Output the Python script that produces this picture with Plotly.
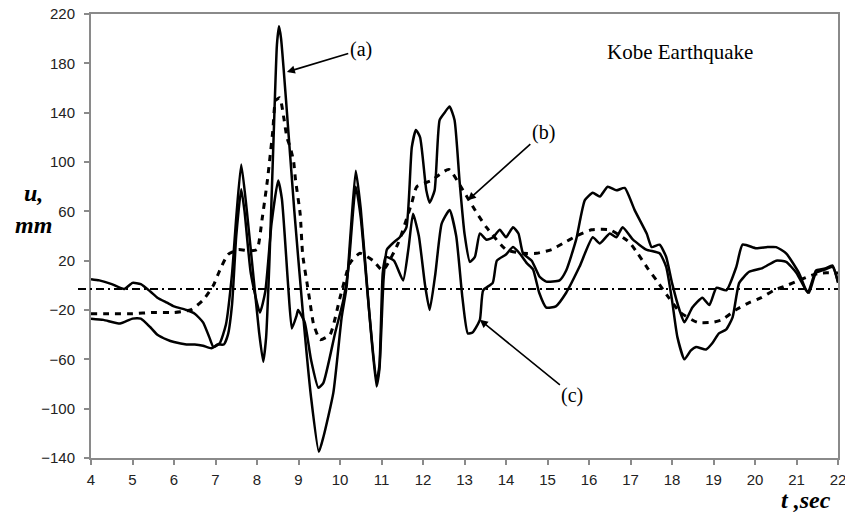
import plotly.graph_objects as go

# ---- data ----
t_a = [4.0, 4.2, 4.5, 4.8, 5.0, 5.2, 5.43, 5.6, 5.83, 6.0, 6.3, 6.5, 6.7, 6.85, 6.95,
       7.1, 7.25, 7.4, 7.5, 7.62, 7.75, 7.9, 8.05, 8.15, 8.22, 8.3, 8.4, 8.48, 8.53, 8.58,
       8.7, 8.9, 9.1, 9.3, 9.49, 9.6, 9.84, 10.04, 10.16, 10.25, 10.38, 10.5, 10.7, 10.88,
       10.95, 11.05, 11.13, 11.3, 11.44, 11.6, 11.73, 11.83, 11.93, 12.08, 12.16, 12.28,
       12.4, 12.52, 12.64, 12.76, 12.88, 13.0, 13.13, 13.25, 13.37, 13.53, 13.69, 13.85,
       14.0, 14.17, 14.3, 14.41, 14.62, 14.81, 14.97, 15.29, 15.45, 15.69, 15.9, 16.09,
       16.26, 16.45, 16.66, 16.86, 17.1, 17.39, 17.51, 17.7, 17.86, 18.0, 18.18, 18.3,
       18.49, 18.73, 18.9, 19.07, 19.31, 19.55, 19.7, 20.03, 20.3, 20.51, 20.75, 21.06,
       21.27, 21.47, 21.6, 21.71, 21.87, 22.0]
u_a = [5, 4, 1, -3, 2, 1, -5, -10, -14, -17, -20, -23, -30, -42, -50,
       -47, -32, 10, 55, 98, 62, 12, -38, -62, -42, 20, 120, 195, 210, 200,
       150, 60, -20, -90, -135, -123, -87, -26, -1, 40, 93, 62, -20, -82,
       -68, 5, 29, 35, 39, 47, 112, 126, 120, 77, 67, 77,
       134, 140, 145, 134, 85, 42, 19, 23, 42, 37, 39, 45,
       39, 47, 42, 26, 20, 7, 3, 4, 12, 37, 69, 75,
       72, 80, 77, 79, 61, 42, 31, 33, 23, 2, -20, -30,
       -18, -10, -16, -2, -4, 15, 33, 30, 31, 31, 26, 10,
       -6, 12, 13, 14, 16, 2]

t_b = [4.0, 4.5, 5.0, 5.5, 6.0, 6.4, 6.7, 6.95, 7.1, 7.3, 7.55, 7.8, 8.0, 8.12, 8.25,
       8.38, 8.45, 8.55, 8.65, 8.72, 8.8, 8.88, 8.93, 9.04, 9.1, 9.2, 9.27, 9.36, 9.52,
       9.76, 10.0, 10.24, 10.48, 10.8, 11.03, 11.4, 11.73, 11.85, 12.2, 12.62, 13.0, 13.29,
       13.53, 14.0, 14.4, 14.74, 15.1, 15.37, 15.7, 16.06, 16.5, 16.97, 17.17, 17.41,
       17.65, 17.9, 18.2, 18.61, 18.97, 19.2, 19.53, 19.86, 20.15, 20.46, 20.77, 21.06,
       21.35, 21.6, 22.0]
u_b = [-23, -23, -23, -22, -22, -20, -12, 0, 12, 25, 29, 28, 29, 53, 85,
       125, 150, 152, 135, 120, 112, 101, 85, 58, 25, 3, -12, -31, -44,
       -40, -10, 18, 26, 20, 12, 34, 67, 80, 85, 94, 75, 59,
       47, 29, 26, 26, 29, 34, 40, 45, 45, 35, 26, 14,
       3, -9, -22, -30, -30, -28, -20, -14, -10, -4, 0, 4,
       8, 10, 10]

t_c = [4.0, 4.3, 4.7, 5.0, 5.2, 5.43, 5.6, 5.83, 6.0, 6.3, 6.5, 6.7, 6.9, 7.05, 7.2,
       7.3, 7.4, 7.5, 7.62, 7.7, 7.85, 8.07, 8.2, 8.35, 8.51, 8.6, 8.75, 8.84, 8.95,
       8.99, 9.15, 9.3, 9.48, 9.6, 9.88, 10.08, 10.2, 10.38, 10.5, 10.7, 10.88, 10.95,
       11.03, 11.1, 11.3, 11.52, 11.65, 11.76, 11.9, 12.05, 12.16, 12.3, 12.45, 12.64,
       12.8, 12.95, 13.08, 13.2, 13.37, 13.45, 13.68, 13.78, 14.0, 14.17, 14.35, 14.5,
       14.65, 14.8, 14.97, 15.2, 15.45, 15.77, 16.09, 16.26, 16.5, 16.66, 16.81, 17.06,
       17.38, 17.7, 17.86, 18.0, 18.13, 18.3, 18.45, 18.58, 18.82, 18.97, 19.13, 19.3,
       19.46, 19.62, 19.86, 20.18, 20.51, 20.75, 21.0, 21.23, 21.3, 21.47, 21.7, 21.87, 22.0]
u_c = [-27, -28, -31, -27, -27, -34, -40, -44, -46, -48, -48, -49, -51, -48, -48,
       -40, -15, 40, 78, 60, 10, -22, -5, 50, 85, 70, 0, -35, -25,
       -20, -30, -60, -83, -79, -39, -12, 13, 80, 55, -20, -78, -65,
       10, 23, 20, 4, 30, 58, 40, 0, -20, 10, 50, 61,
       40, -10, -39, -38, -28, -4, 2, 20, 25, 31, 25, 18,
       13, -6, -18, -17, -6, 15, 39, 34, 42, 39, 47, 37,
       29, 26, 15, -12, -42, -60, -53, -50, -52, -47, -39, -36,
       -26, 2, 11, 14, 20, 19, 10, -4, -6, 10, 13, 15, 3]

ref_level = -3

x_ticks = list(range(4, 23))
y_ticks = list(range(-140, 221, 40))

# ---- figure ----
fig = go.Figure()
smooth = dict(shape="spline", smoothing=0.5)
fig.add_trace(go.Scatter(x=t_b, y=u_b, mode="lines",
                         line=dict(color="black", width=3, dash="6px,6px", **smooth)))
fig.add_trace(go.Scatter(x=t_c, y=u_c, mode="lines",
                         line=dict(color="black", width=2.5, **smooth)))
fig.add_trace(go.Scatter(x=t_a, y=u_a, mode="lines",
                         line=dict(color="black", width=2.5, **smooth)))

fig.add_shape(type="line", xref="paper", yref="y", x0=-0.0174, x1=1,
              y0=ref_level, y1=ref_level,
              line=dict(color="black", width=2, dash="8px,4px,2px,4px"))

serif = "Liberation Serif, Times New Roman, serif"
arrow_common = dict(showarrow=True, arrowhead=2, arrowsize=1, arrowwidth=1.6,
                    arrowcolor="black", axref="x", ayref="y",
                    font=dict(family=serif, size=20, color="black"))
fig.add_annotation(text="(a)", x=8.72, y=173, ax=10.5, ay=191, **arrow_common)
fig.add_annotation(text="(b)", x=13.08, y=69, ax=14.9, ay=124, **arrow_common)
fig.add_annotation(text="(c)", x=13.37, y=-28, ax=15.6, ay=-89, **arrow_common)

fig.add_annotation(text="Kobe Earthquake", x=18.2, y=189, showarrow=False,
                   font=dict(family=serif, size=21, color="black"))

label_common = dict(xref="paper", yref="paper", showarrow=False,
                    xanchor="center", yanchor="middle",
                    font=dict(family=serif, size=24, color="black"))
fig.add_annotation(text="<b><i>u,</i></b>", x=-0.077, y=0.597, **label_common)
fig.add_annotation(text="<b><i>mm</i></b>", x=-0.077, y=0.525, **label_common)
fig.add_annotation(text="<b><i>t ,sec</i></b>", x=0.957, y=-0.094, **label_common)

axis_common = dict(showgrid=False, zeroline=False, showline=True,
                   linecolor="#8a8a8a", linewidth=2, mirror=True, automargin=False,
                   ticks="outside", ticklen=5, tickwidth=1.5, tickcolor="#8a8a8a",
                   ticklabeloverflow="allow",
                   tickfont=dict(family="Liberation Sans, Arial, sans-serif",
                                 size=15, color="#222"))
fig.update_xaxes(range=[4, 22], tickvals=x_ticks, ticklabelstandoff=2, **axis_common)
fig.update_yaxes(range=[-140, 220], tickvals=y_ticks, ticklabelstandoff=6, **axis_common)

fig.update_layout(width=845, height=513, showlegend=False,
                  margin=dict(l=91, r=7, t=14, b=55),
                  plot_bgcolor="white", paper_bgcolor="white")

fig.write_html("out.html")
